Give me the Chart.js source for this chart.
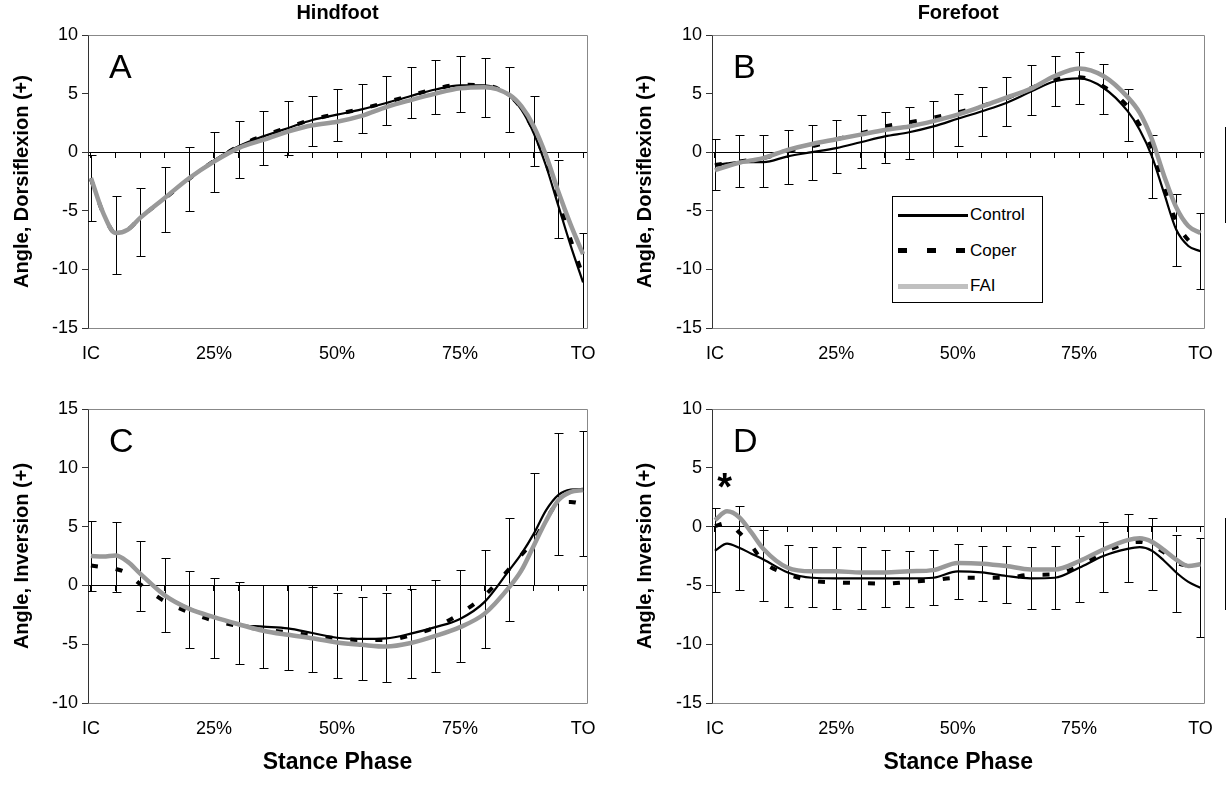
<!DOCTYPE html>
<html>
<head>
<meta charset="utf-8">
<title>Hindfoot / Forefoot stance kinematics</title>
<script src="https://cdn.jsdelivr.net/npm/chart.js@4.4.1/dist/chart.umd.min.js"></script>
<style>
    body { margin: 0; background: #fff; }
    #wrap { position: relative; width: 1228px; height: 786px; overflow: hidden; font-family: "Liberation Sans", Arial, sans-serif; }
    #wrap canvas { position: absolute; }
    #legend { position: absolute; left: 892px; top: 196px; width: 149px; height: 105px; border: 1px solid #000; background: #fff; }
    #legend .row { position: absolute; left: 0; height: 20px; line-height: 20px; font-size: 17px; color: #000; }
    #legend .smp { position: absolute; left: 5px; width: 70px; }
    #legend .txt { position: absolute; left: 77px; white-space: nowrap; }
    .edge { position: absolute; left: 1225px; width: 1px; background: #000; }
</style>
</head>
<body>
<div id="wrap">
    <canvas id="chartA" width="614" height="380" style="left:0;top:0"></canvas>
    <canvas id="chartB" width="614" height="380" style="left:614px;top:0"></canvas>
    <canvas id="chartC" width="614" height="406" style="left:0;top:380px"></canvas>
    <canvas id="chartD" width="614" height="406" style="left:614px;top:380px"></canvas>
    <div id="legend"></div>
    <div class="edge" style="top:127px;height:96px"></div>
    <div class="edge" style="top:518px;height:92px"></div>
</div>
<script>
// % of stance where the curves were read
const stance = [0, 2.5, 5, 7.5, 10, 15, 20, 25, 30, 35, 40, 45, 50, 55, 60, 65, 70, 75, 80, 85, 87.5, 90, 92.5, 95, 97.5, 100];
// error bars every 5% of stance
const errStance = [0, 5, 10, 15, 20, 25, 30, 35, 40, 45, 50, 55, 60, 65, 70, 75, 80, 85, 90, 95, 100];
const xTickVals = [0, 25, 50, 75, 100];
const xTickLabels = ['IC', '25%', '50%', '75%', 'TO'];
const groups = ['Control', 'Coper', 'FAI'];

// A - hindfoot dorsiflexion
const aControl = [-2.2, -5.2, -6.9, -6.6, -5.6, -3.9, -2.2, -0.7, 0.5, 1.35, 2.05, 2.75, 3.2, 3.65, 4.2, 4.8, 5.35, 5.7, 5.7, 4.8, 3.6, 1.6, -1.2, -4.6, -8.0, -11.1];
const aCoper = [-2.3, -5.2, -6.9, -6.6, -5.6, -3.95, -2.25, -0.75, 0.5, 1.4, 2.1, 2.8, 3.25, 3.7, 4.25, 4.85, 5.4, 5.75, 5.7, 4.85, 3.7, 1.8, -0.9, -4.1, -7.5, -10.6];
const aFai = [-2.2, -5.2, -6.9, -6.6, -5.6, -3.9, -2.2, -0.8, 0.35, 1.05, 1.75, 2.3, 2.6, 3.1, 3.85, 4.45, 5.0, 5.45, 5.55, 4.9, 3.9, 2.2, -0.3, -3.4, -6.2, -8.7];
const aErrHi = [-0.25, -3.7, -3.05, -1.25, 0.45, 1.75, 2.7, 3.55, 4.35, 4.8, 5.35, 5.85, 6.5, 7.25, 7.9, 8.2, 8.05, 7.25, 4.8, -0.7, -6.9];
const aErrLo = [-5.85, -10.4, -8.85, -6.8, -5.0, -3.4, -2.2, -1.05, -0.25, 0.55, 0.95, 1.65, 2.3, 2.9, 3.25, 3.4, 3.0, 1.75, -1.2, -7.35, -16];

// B - forefoot dorsiflexion
const bControl = [-1.1, -0.95, -0.85, -0.85, -0.85, -0.35, 0, 0.35, 0.85, 1.35, 1.7, 2.2, 2.85, 3.5, 4.2, 5.15, 6.05, 6.3, 5.5, 3.5, 1.9, -0.35, -3.5, -6.6, -8.0, -8.45];
const bCoper = [-1.1, -0.95, -0.8, -0.65, -0.5, 0.1, 0.5, 1.1, 1.6, 2.2, 2.55, 2.95, 3.4, 3.95, 4.6, 5.45, 6.2, 6.4, 5.6, 3.9, 2.3, 0.3, -3.0, -5.9, -7.5, -8.2];
const bFai = [-1.55, -1.2, -0.9, -0.7, -0.5, 0.2, 0.7, 1.1, 1.5, 1.9, 2.2, 2.65, 3.2, 3.9, 4.65, 5.4, 6.5, 7.15, 6.5, 4.7, 3.35, 1.1, -2.0, -4.7, -6.3, -6.9];
const bErrHi = [1.1, 1.5, 1.5, 1.9, 2.3, 2.75, 3.15, 3.4, 3.85, 4.35, 5.0, 5.6, 6.45, 7.4, 8.2, 8.55, 7.5, 5.4, 1.5, -3.55, -5.2];
const bErrLo = [-3.25, -3.0, -3.0, -2.7, -2.35, -1.75, -1.35, -0.9, -0.55, 0, 0.55, 1.35, 2.2, 3.15, 3.95, 4.1, 3.3, 0.95, -3.95, -9.7, -11.7];

// C - hindfoot inversion
const cControl = [2.5, 2.45, 2.55, 2.0, 1.0, -0.8, -1.95, -2.7, -3.35, -3.5, -3.65, -4.05, -4.45, -4.55, -4.5, -4.1, -3.55, -2.85, -1.4, 1.3, 2.7, 4.4, 6.4, 7.7, 8.15, 8.2];
const cCoper = [1.7, 1.55, 1.4, 1.0, 0.1, -1.35, -2.3, -3.0, -3.45, -3.75, -4.0, -4.25, -4.5, -4.65, -4.65, -4.25, -3.55, -2.4, -0.85, 1.4, 2.6, 3.85, 5.6, 7.0, 7.1, 6.9];
const cFai = [2.5, 2.45, 2.55, 2.0, 1.0, -0.85, -2.0, -2.7, -3.3, -3.85, -4.2, -4.5, -4.85, -5.05, -5.2, -4.9, -4.3, -3.55, -2.4, -0.15, 1.3, 3.4, 5.5, 7.25, 7.95, 8.1];
const cErrHi = [5.5, 5.35, 3.8, 2.35, 1.2, 0.65, 0.25, 0.05, 0.05, -0.15, -0.65, -1.0, -0.65, -0.3, 0.5, 1.35, 3.0, 5.75, 9.6, 13.0, 13.15];
const cErrLo = [-0.45, -0.55, -2.2, -4.0, -5.35, -6.2, -6.7, -7.0, -7.2, -7.4, -7.85, -8.05, -8.25, -7.85, -7.4, -6.55, -5.35, -3.0, 0.05, 2.6, 2.5];

// D - forefoot inversion
const dControl = [-2.05, -1.45, -1.8, -2.3, -2.8, -3.9, -4.35, -4.4, -4.4, -4.4, -4.4, -4.35, -3.8, -3.9, -4.2, -4.4, -4.35, -3.5, -2.5, -1.9, -1.75, -2.05, -2.9, -3.9, -4.7, -5.2];
const dCoper = [0.05, 0.3, -0.5, -1.6, -3.0, -4.05, -4.6, -4.75, -4.8, -4.85, -4.7, -4.55, -4.35, -4.35, -4.35, -4.1, -4.05, -3.35, -2.2, -1.4, -1.3, -1.6, -2.2, -3.05, -3.3, -3.2];
const dFai = [0.55, 1.3, 0.8, -0.5, -1.9, -3.5, -3.8, -3.8, -3.9, -3.9, -3.8, -3.7, -3.1, -3.15, -3.35, -3.65, -3.65, -2.95, -1.95, -1.15, -1.0, -1.3, -2.0, -2.8, -3.35, -3.2];
const dErrHi = [1.55, 1.75, -0.3, -1.55, -1.75, -1.75, -1.75, -1.95, -2.05, -1.95, -1.5, -1.65, -1.65, -1.75, -1.65, -0.8, 0.4, 1.05, 0.7, -0.7, -0.95];
const dErrLo = [-5.55, -5.35, -6.3, -6.8, -6.8, -7.0, -7.0, -6.8, -6.8, -6.7, -6.15, -6.3, -6.5, -7.0, -7.0, -6.4, -5.55, -4.75, -5.35, -7.25, -9.4];

const FONT = '"Liberation Sans", Arial, sans-serif';
const lineStyles = {
    Control: { color: '#000000', width: 2.2, dash: [], order: 2 },
    Coper: { color: '#000000', width: 4, dash: [7, 18], order: 3 },
    FAI: { color: '#999999', width: 4.5, dash: [], order: 1 }
};

function toPoints(ys) {
    return stance.map((x, i) => ({ x: x, y: ys[i] }));
}

const errorBarPlugin = {
    id: 'errorBars',
    beforeDatasetsDraw(chart, args, opts) {
        const { ctx, chartArea, scales } = chart;
        ctx.save();
        ctx.beginPath();
        ctx.rect(chartArea.left, chartArea.top, chartArea.width, chartArea.height);
        ctx.clip();
        ctx.strokeStyle = '#000';
        ctx.lineWidth = 1;
        for (let i = 0; i < opts.x.length; i++) {
            const px = Math.round(scales.x.getPixelForValue(opts.x[i])) + 0.5;
            const yh = Math.round(scales.y.getPixelForValue(opts.hi[i])) + 0.5;
            const yl = Math.round(scales.y.getPixelForValue(opts.lo[i])) + 0.5;
            ctx.beginPath();
            ctx.moveTo(px, yh); ctx.lineTo(px, yl);
            ctx.moveTo(px - 4, yh); ctx.lineTo(px + 5, yh);
            ctx.moveTo(px - 4, yl); ctx.lineTo(px + 5, yl);
            ctx.stroke();
        }
        ctx.restore();
    }
};

const framePlugin = {
    id: 'plotFrame',
    beforeDatasetsDraw(chart) {
        const { ctx, chartArea: a } = chart;
        const l = Math.round(a.left) + 0.5, r = Math.round(a.right) + 0.5;
        const t = Math.round(a.top) + 0.5, b = Math.round(a.bottom) + 0.5;
        ctx.save();
        ctx.strokeStyle = '#888';
        ctx.lineWidth = 1;
        ctx.beginPath();
        ctx.moveTo(l, t); ctx.lineTo(r, t); ctx.lineTo(r, b); ctx.lineTo(l, b);
        ctx.stroke();
        ctx.restore();
    }
};

const marksPlugin = {
    id: 'panelMarks',
    afterDraw(chart, args, opts) {
        const { ctx, chartArea: a, scales } = chart;
        ctx.save();
        ctx.fillStyle = '#000';
        ctx.textBaseline = 'alphabetic';
        ctx.font = '34px ' + FONT;
        ctx.fillText(opts.letter, a.left + 21, a.top + 43);
        if (opts.star) {
            ctx.font = 'bold 38px ' + FONT;
            ctx.textAlign = 'center';
            const sx = scales.x.getPixelForValue(opts.star.x);
            const sy = scales.y.getPixelForValue(opts.star.y);
            ctx.fillText('*', sx, sy);
        }
        ctx.restore();
    }
};

function makePanel(canvasId, p) {
    const topRow = p.title !== '';
    const series = { Control: p.control, Coper: p.coper, FAI: p.fai };
    const datasets = groups.map(g => ({
        label: g,
        data: toPoints(series[g]),
        borderColor: lineStyles[g].color,
        borderWidth: lineStyles[g].width,
        borderDash: lineStyles[g].dash,
        order: lineStyles[g].order,
        fill: false
    }));
    return new Chart(document.getElementById(canvasId), {
        type: 'line',
        data: { datasets: datasets },
        options: {
            responsive: false,
            animation: false,
            events: [],
            layout: { padding: { left: 0, right: p.padRight, top: topRow ? 0 : 29, bottom: 0 } },
            elements: {
                point: { radius: 0 },
                line: { cubicInterpolationMode: 'monotone', borderCapStyle: 'butt' }
            },
            plugins: {
                legend: { display: false },
                tooltip: { enabled: false },
                title: {
                    display: topRow,
                    text: p.title,
                    fullSize: false,
                    color: '#000',
                    font: { family: FONT, size: 20, weight: 'bold', lineHeight: 1.2 },
                    padding: { top: 1, bottom: 10 }
                },
                errorBars: { x: errStance, hi: p.errHi, lo: p.errLo },
                panelMarks: { letter: p.letter, star: p.star }
            },
            scales: {
                x: {
                    type: 'linear',
                    position: 'bottom',
                    min: -0.6,
                    max: 100.8,
                    afterBuildTicks: s => { s.ticks = xTickVals.map(v => ({ value: v })); },
                    afterFit: s => { s.height = topRow ? 52 : 83; },
                    grid: { display: false, drawTicks: false },
                    border: { display: false },
                    ticks: {
                        autoSkip: false,
                        maxRotation: 0,
                        padding: 15,
                        color: '#000',
                        font: { family: FONT, size: 18 },
                        callback: (v, i) => xTickLabels[i]
                    },
                    title: {
                        display: !topRow,
                        text: 'Stance Phase',
                        color: '#000',
                        font: { family: FONT, size: 23, weight: 'bold', lineHeight: 1.2 },
                        padding: { top: 0, bottom: 10 }
                    }
                },
                x0: {
                    type: 'linear',
                    position: { y: 0 },
                    min: -0.6,
                    max: 100.8,
                    afterBuildTicks: s => { s.ticks = errStance.map(v => ({ value: v })); },
                    ticks: { display: false },
                    grid: { drawOnChartArea: false, drawTicks: true, tickLength: 5, color: '#000' },
                    border: { color: '#000', width: 1 }
                },
                y: {
                    min: p.yMin,
                    max: p.yMax,
                    afterFit: s => { s.width = p.axisWidth; },
                    grid: { drawOnChartArea: false, drawTicks: true, tickLength: 6, color: '#333' },
                    border: { color: '#333', width: 1 },
                    ticks: { stepSize: 5, padding: 4, color: '#000', font: { family: FONT, size: 18 } },
                    title: {
                        display: true,
                        text: p.yTitle,
                        color: '#000',
                        font: { family: FONT, size: 20, weight: 'bold', lineHeight: 1.2 },
                        padding: { top: p.titlePad, bottom: 0 }
                    }
                }
            }
        },
        plugins: [framePlugin, errorBarPlugin, marksPlugin]
    });
}

makePanel('chartA', {
    title: 'Hindfoot', yTitle: 'Angle, Dorsiflexion (+)', letter: 'A', yMin: -15, yMax: 10,
    control: aControl, coper: aCoper, fai: aFai, errHi: aErrHi, errLo: aErrLo,
    axisWidth: 88, padRight: 27, titlePad: 10
});
makePanel('chartB', {
    title: 'Forefoot', yTitle: 'Angle, Dorsiflexion (+)', letter: 'B', yMin: -15, yMax: 10,
    control: bControl, coper: bCoper, fai: bFai, errHi: bErrHi, errLo: bErrLo,
    axisWidth: 98, padRight: 19, titlePad: 19
});
makePanel('chartC', {
    title: '', yTitle: 'Angle, Inversion (+)', letter: 'C', yMin: -10, yMax: 15,
    control: cControl, coper: cCoper, fai: cFai, errHi: cErrHi, errLo: cErrLo,
    axisWidth: 88, padRight: 27, titlePad: 10
});
makePanel('chartD', {
    title: '', yTitle: 'Angle, Inversion (+)', letter: 'D', yMin: -15, yMax: 10,
    control: dControl, coper: dCoper, fai: dFai, errHi: dErrHi, errLo: dErrLo,
    axisWidth: 98, padRight: 19, titlePad: 19, star: { x: 2, y: 2.3 }
});

// legend box inside panel B
const legendEl = document.getElementById('legend');
groups.forEach((g, i) => {
    const st = lineStyles[g];
    const row = document.createElement('div');
    row.className = 'row';
    row.style.top = (8 + i * 35.5) + 'px';
    row.style.width = '149px';
    const smp = document.createElement('span');
    smp.className = 'smp';
    const h = g === 'Control' ? 3 : 5;
    smp.style.top = (10 - h / 2) + 'px';
    smp.style.height = h + 'px';
    if (g === 'Coper') {
        smp.style.background = 'repeating-linear-gradient(to right, #000 0 9px, transparent 9px 29px)';
    } else {
        smp.style.background = g === 'FAI' ? '#c0c0c0' : st.color;
    }
    const txt = document.createElement('span');
    txt.className = 'txt';
    txt.textContent = g;
    row.appendChild(smp);
    row.appendChild(txt);
    legendEl.appendChild(row);
});
</script>
</body>
</html>
